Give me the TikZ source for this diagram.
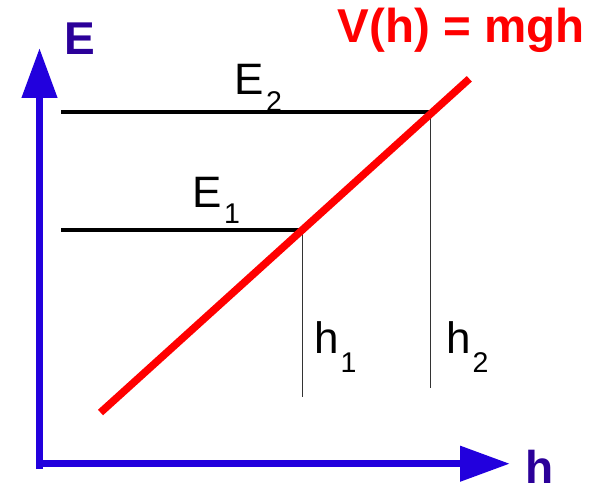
\documentclass[tikz,border=0pt]{standalone}
\usepackage{fontspec}
\setmainfont{Liberation Sans}
\usetikzlibrary{arrows.meta,calc}
\definecolor{AxisBlue}{HTML}{2200DD}
\definecolor{LabelBlue}{HTML}{2B0099}
\definecolor{LineRed}{HTML}{FF0000}
\definecolor{DropGray}{HTML}{333333}
\newcommand{\sublbl}[3]{#1\kern2pt\raisebox{-#3pt}{\fontsize{28.5}{30}\selectfont #2}}

\begin{document}
\begin{tikzpicture}[x=1pt,y=1pt,
    axis/.style={AxisBlue,line width=7.5pt,-{Triangle[length=50pt,width=34pt]}},
    level/.style={black,line width=4pt},
    dropline/.style={DropGray,line width=1pt},
    axislabel/.style={LabelBlue,font=\fontsize{46}{50}\selectfont\bfseries,inner sep=0pt,anchor=base},
    leveltext/.style={font=\fontsize{44}{48}\selectfont,inner sep=0pt,anchor=base west}]
  \useasboundingbox (0,0) rectangle (593,488);

  \coordinate (ybot) at (39.5,19);
  \coordinate (ytop) at (39.5,440);
  \coordinate (xleft) at (36,24.3);
  \coordinate (xright) at (510,24.3);
  \draw[axis] (ybot) -- (ytop);
  \draw[axis] (xleft) -- (xright);
  \node[axislabel] (elabel) at (79.5,433) {E};
  \node[axislabel] (hlabel) at (540,5) {h};

  \coordinate (v0) at (100.5,75.5);
  \coordinate (v1) at (469.3,409.2);
  \coordinate (p1) at ($(v0)!0.547!(v1)$);
  \coordinate (p2) at ($(v0)!0.895!(v1)$);
  \coordinate (e1) at (61,258);
  \coordinate (e2) at (61,376);
  \coordinate (h1) at (0,91);
  \coordinate (h2) at (0,100);

  \draw[level] (e1) -- (e1 -| p1);
  \draw[level] (e2) -- (e2 -| p2);
  \draw[dropline] (p1) -- (p1 |- h1);
  \draw[dropline] (p2) -- (p2 |- h2);
  \draw[LineRed,line width=7.5pt] (v0) -- (v1);

  \node[leveltext] (E2) at (234.5,393) {\sublbl{E}{2}{17}};
  \node[leveltext] (E1) at (192.5,281) {\sublbl{E}{1}{16}};
  \node[leveltext] (h1t) at (314,135) {\sublbl{h}{1}{19}};
  \node[leveltext] (h2t) at (446,135) {\sublbl{h}{2}{19}};
  \node[LineRed,font=\fontsize{47.5}{50}\selectfont\bfseries,inner sep=0pt,anchor=base west]
    (vlabel) at (337.5,445) {V(h) = mgh};
\end{tikzpicture}
\end{document}
